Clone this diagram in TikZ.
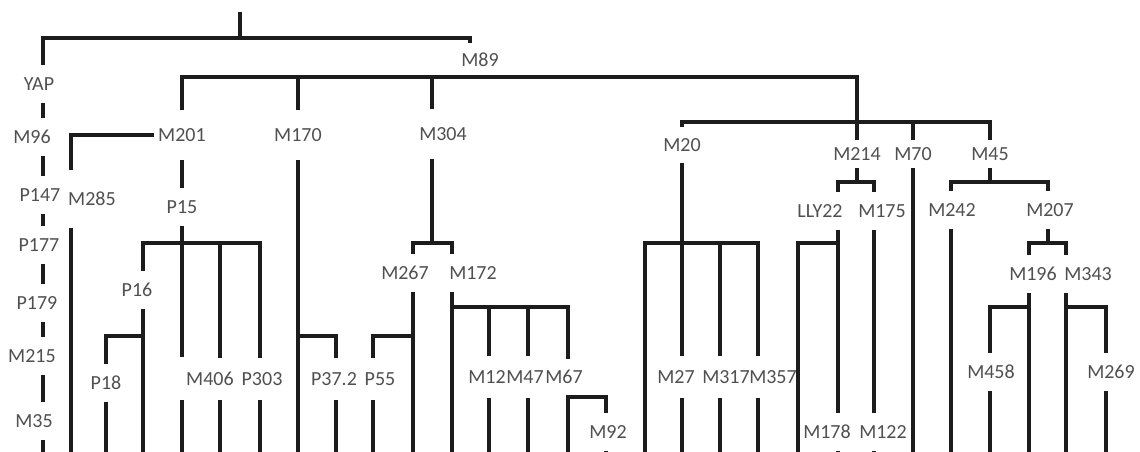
\documentclass[tikz,border=0pt]{standalone}
\usepackage{fontspec}
\setmainfont{Carlito}
\definecolor{linec}{HTML}{1C1C1C}
\definecolor{textc}{HTML}{505050}
\begin{document}
\begin{tikzpicture}[x=1pt,y=-1pt,
  lbl/.style={inner xsep=4pt, inner ysep=0pt, minimum height=38pt, text=textc,
              font=\fontsize{20}{21}\selectfont},
  lblt/.style={lbl, minimum height=50pt},
  lbls/.style={lbl, minimum height=28pt},
  br/.style={line width=3.2pt, draw=linec}]
\useasboundingbox[fill=white] (0,0) rectangle (1140,452);
% column and row coordinates
\coordinate (bot) at (0,452);
\coordinate (ax) at (43,0);
\coordinate (x71) at (71,0);
\coordinate (x143) at (143,0);
\coordinate (x182) at (182,0);
\coordinate (x220) at (220,0);
\coordinate (x260) at (260,0);
\coordinate (x336) at (336,0);
\coordinate (x373) at (373,0);
\coordinate (x413) at (413,0);
\coordinate (x432) at (432,0);
\coordinate (x452) at (452,0);
\coordinate (x489) at (489,0);
\coordinate (x528) at (528,0);
\coordinate (x568) at (568,0);
\coordinate (x606) at (606,0);
\coordinate (x645) at (645,0);
\coordinate (x682) at (682,0);
\coordinate (x720) at (720,0);
\coordinate (x758) at (758,0);
\coordinate (x798) at (798,0);
\coordinate (x838) at (838,0);
\coordinate (x874) at (874,0);
\coordinate (x951) at (951,0);
\coordinate (x990) at (990,0);
\coordinate (x1029) at (1029,0);
\coordinate (x1048) at (1048,0);
\coordinate (x1066) at (1066,0);
\coordinate (x1106) at (1106,0);
\coordinate (y307) at (0,307);
\coordinate (y336) at (0,336);
\coordinate (y397) at (0,397);
\coordinate (root) at (240,12);
\coordinate (j0) at (240,38);
\coordinate (m89t) at (470,43);
\coordinate (c77) at (857,77);
\coordinate (c122) at (857,122);
\coordinate (j15) at (182,243);
\coordinate (g182a) at (182,357);
\coordinate (g182b) at (182,400);
\coordinate (j304) at (432,243);
\coordinate (j20) at (682,243);
\coordinate (j214) at (857,182);
\coordinate (j178) at (838,243);
\coordinate (j45) at (990,182);
\coordinate (j207) at (1048,243);

% labels
\node[lbl] (YAP) at (39,84) {YAP};
\node[lbl] (M96) at (32,137) {M96};
\node[lbl] (P147) at (40,195) {P147};
\node[lbl] (P177) at (39,245) {P177};
\node[lbl] (P179) at (37,303) {P179};
\node[lbl] (M215) at (32,356) {M215};
\node[lbl] (M35) at (34,421) {M35};
\node[lbl] (M89) at (480,60) {M89};
\node[lblt] (M201) at (182,135) {M201};
\node[lblt] (M170) at (298,135) {M170};
\node[lblt] (M304) at (443,134) {M304};
\node[lbl, minimum height=58pt] (M285) at (92,199) {M285};
\node[lbl] (P15) at (182,207) {P15};
\node[lbl] (P16) at (137,290) {P16};
\node[lbl] (P18) at (106,383) {P18};
\node[lbl, minimum height=42pt] (M406) at (210,379) {M406};
\node[lbl, minimum height=42pt] (P303) at (262,379) {P303};
\node[lbl, minimum height=42pt] (P372) at (334,379) {P37.2};
\node[lbl, minimum height=42pt] (P55) at (380,379) {P55};
\node[lbl] (M267) at (405,273) {M267};
\node[lbl] (M172) at (473,273) {M172};
\node[lbl, minimum height=42pt, inner xsep=0pt] (M12) at (487,377) {M12};
\node[lbl, minimum height=42pt, inner xsep=0pt] (M47) at (525,377) {M47};
\node[lbl, minimum height=36pt, inner xsep=0pt] (M67) at (564,377) {M67};
\node[lbl] (M92) at (608,432) {M92};
\node[lbl, minimum height=35pt] (M20) at (682,145) {M20};
\node[lbl, minimum height=42pt] (M27) at (676,377) {M27};
\node[lbl, minimum height=42pt, inner xsep=0pt] (M317) at (726,377) {M317};
\node[lbl, minimum height=42pt, inner xsep=0pt] (M357) at (773,377) {M357};
\node[lbls] (M214) at (857,154) {M214};
\node[lbls] (M70) at (913,154) {M70};
\node[lbls] (M45) at (990,154) {M45};
\node[lbl] (LLY22) at (820,211) {LLY22};
\node[lbl] (M175) at (882,211) {M175};
\node[lbl] (M178) at (827,432) {M178};
\node[lbl] (M122) at (883,432) {M122};
\node[lbl] (M242) at (952,210) {M242};
\node[lbl] (M207) at (1050,210) {M207};
\node[lbl] (M196) at (1033,274) {M196};
\node[lbl] (M343) at (1088,274) {M343};
\node[lbl] (M458) at (991,372) {M458};
\node[lbl] (M269) at (1111,372) {M269};

% top
\draw[br] (root) -- (j0);
\draw[br] (YAP.north -| ax) |- (j0) -| (m89t);
% YAP chain
\draw[br] (YAP.south -| ax) -- (M96.north -| ax);
\draw[br] (M96.south -| ax) -- (P147.north -| ax);
\draw[br] (P147.south -| ax) -- (P177.north -| ax);
\draw[br] (P177.south -| ax) -- (P179.north -| ax);
\draw[br] (P179.south -| ax) -- (M215.north -| ax);
\draw[br] (M215.south -| ax) -- (M35.north -| ax);
\draw[br] (M35.south -| ax) -- (ax |- bot);
% M89 children
\draw[br] (M201.north) |- (c77) -- (c122);
\draw[br] (M170.north) -- (M170.north |- c77);
\draw[br] (M304.north -| x432) -- (x432 |- c77);
\draw[br] (M20.north) |- (c122) -| (M45.north);
\draw[br] (M214.north) -- (c122);
\draw[br] (M70.north) -- (M70.north |- c122);
% M201
\draw[br] (M201.west) -| (M285.north -| x71);
\draw[br] (M285.south -| x71) -- (x71 |- bot);
\draw[br] (M201.south) -- (P15.north);
\draw[br] (P15.south) -- (g182a);
\draw[br] (g182b) -- (x182 |- bot);
\draw[br] (P16.north -| x143) |- (j15) -| (P303.north -| x260);
\draw[br] (M406.north -| x220) -- (x220 |- j15);
\draw[br] (M406.south -| x220) -- (x220 |- bot);
\draw[br] (P303.south -| x260) -- (x260 |- bot);
\draw[br] (P16.south -| x143) -- (x143 |- bot);
\draw[br] (P18.north) |- (x143 |- y336);
\draw[br] (P18.south) -- (P18.south |- bot);
% M170
\draw[br] (M170.south) -- (M170.south |- bot);
\draw[br] (P372.north -| x336) |- (M170.south |- y336);
\draw[br] (P372.south -| x336) -- (x336 |- bot);
% M304
\draw[br] (M304.south -| x432) -- (j304);
\draw[br] (M267.north -| x413) |- (j304) -| (M172.north -| x452);
\draw[br] (M267.south -| x413) -- (x413 |- bot);
\draw[br] (P55.north -| x373) |- (x413 |- y336);
\draw[br] (P55.south -| x373) -- (x373 |- bot);
\draw[br] (M172.south -| x452) -- (x452 |- bot);
\draw[br] (x452 |- y307) -| (M67.north -| x568);
\draw[br] (M12.north -| x489) -- (x489 |- y307);
\draw[br] (M47.north -| x528) -- (x528 |- y307);
\draw[br] (M12.south -| x489) -- (x489 |- bot);
\draw[br] (M47.south -| x528) -- (x528 |- bot);
\draw[br] (M67.south -| x568) -- (x568 |- bot);
\draw[br] (x568 |- y397) -| (M92.north -| x606);
\draw[br] (M92.south -| x606) -- (x606 |- bot);
% M20
\draw[br] (M20.south) -- (j20);
\draw[br] (x645 |- bot) |- (j20) -| (M357.north -| x758);
\draw[br] (M27.north -| x682) -- (j20);
\draw[br] (M317.north -| x720) -- (x720 |- j20);
\draw[br] (M27.south -| x682) -- (x682 |- bot);
\draw[br] (M317.south -| x720) -- (x720 |- bot);
\draw[br] (M357.south -| x758) -- (x758 |- bot);
% M214
\draw[br] (M214.south) -- (j214);
\draw[br] (LLY22.north -| x838) |- (j214) -| (M175.north -| x874);
\draw[br] (LLY22.south -| x838) -- (M178.north -| x838);
\draw[br] (x798 |- bot) |- (j178);
\draw[br] (M178.south -| x838) -- (x838 |- bot);
\draw[br] (M175.south -| x874) -- (M122.north -| x874);
\draw[br] (M122.south -| x874) -- (x874 |- bot);
% M70
\draw[br] (M70.south) -- (M70.south |- bot);
% M45
\draw[br] (M45.south) -- (j45);
\draw[br] (M242.north -| x951) |- (j45) -| (M207.north -| x1048);
\draw[br] (M242.south -| x951) -- (x951 |- bot);
\draw[br] (M207.south -| x1048) -- (j207);
\draw[br] (M196.north -| x1029) |- (j207) -| (M343.north -| x1066);
\draw[br] (M196.south -| x1029) -- (x1029 |- bot);
\draw[br] (M458.north -| x990) |- (x1029 |- y307);
\draw[br] (M458.south -| x990) -- (x990 |- bot);
\draw[br] (M343.south -| x1066) -- (x1066 |- bot);
\draw[br] (x1066 |- y307) -| (M269.north -| x1106);
\draw[br] (M269.south -| x1106) -- (x1106 |- bot);
\end{tikzpicture}
\end{document}
